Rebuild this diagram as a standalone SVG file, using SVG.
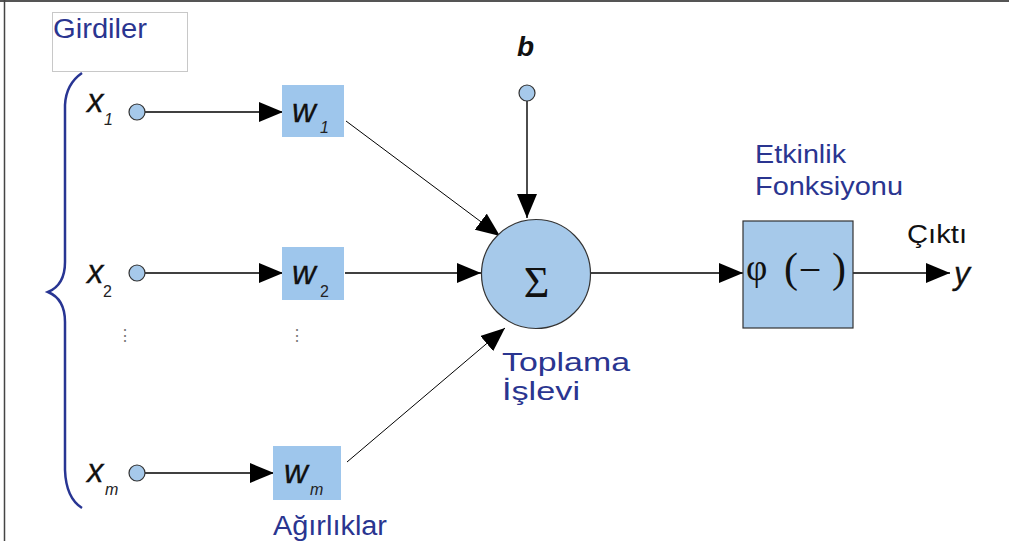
<svg xmlns="http://www.w3.org/2000/svg" width="1009" height="541" viewBox="0 0 1009 541">
<defs>
<style>
.lbl{font-family:"Liberation Sans",Arial,sans-serif;font-size:25px;fill:#2a3590}
.var{font-family:"Liberation Sans",Arial,sans-serif;font-style:italic;font-size:33px;fill:#111;stroke:#111;stroke-width:0.3}
.sub{font-family:"Liberation Sans",Arial,sans-serif;font-style:italic;font-size:16px;fill:#222}
.sym{font-family:"Liberation Serif","Times New Roman",serif;fill:#111}
.node{fill:#a6c9ea;stroke:#333;stroke-width:1.2}
.box{fill:#9ec6ec;stroke:none}
.conn{stroke:#000;stroke-width:1.4;fill:none}
.thin{stroke:#000;stroke-width:1;fill:none}
</style>
<marker id="ah" markerUnits="userSpaceOnUse" markerWidth="24" markerHeight="20" refX="24" refY="10" orient="auto">
<path d="M0,0 L24,10 L0,20 z" fill="#000"/>
</marker>
</defs>
<rect width="1009" height="541" fill="#fff"/>
<g id="frame">
<line x1="0" y1="1" x2="1009" y2="1" stroke="#555" stroke-width="2"/>
<line x1="4.5" y1="0" x2="4.5" y2="541" stroke="#444" stroke-width="1.5"/>
</g>
<g id="girdiler">
<rect x="52.5" y="12.5" width="135" height="59" fill="#fff" stroke="#c8c8c8" stroke-width="1"/>
<text class="lbl" x="53" y="38" textLength="94" lengthAdjust="spacingAndGlyphs" style="font-size:27px">Girdiler</text>
<path d="M82,73 Q66,84 65,105 L65,262 Q65,285 48,292 Q65,299 65,322 L65,470 Q66,498 82,508" fill="none" stroke="#283593" stroke-width="2.5"/>
</g>
<g id="connectors">
<line class="conn" x1="145" y1="112" x2="283" y2="112" marker-end="url(#ah)"/>
<line class="conn" x1="145" y1="273" x2="283" y2="273" marker-end="url(#ah)"/>
<line class="conn" x1="145" y1="473" x2="274" y2="473" marker-end="url(#ah)"/>
<line class="thin" x1="346" y1="121" x2="500" y2="236" marker-end="url(#ah)"/>
<line class="conn" x1="345" y1="273" x2="481" y2="273" marker-end="url(#ah)"/>
<line class="thin" x1="347" y1="462" x2="505" y2="328" marker-end="url(#ah)"/>
<line class="conn" x1="527" y1="101" x2="527" y2="218" marker-end="url(#ah)"/>
<line class="conn" x1="591" y1="273" x2="743" y2="273" marker-end="url(#ah)"/>
<line class="conn" x1="853" y1="273" x2="950" y2="273" marker-end="url(#ah)"/>
</g>
<g id="x1">
<text class="var" x="87" y="112">x</text><text class="sub" x="104" y="125">1</text>
<circle class="node" cx="137" cy="112" r="8"/>
</g>
<g id="x2">
<text class="var" x="87" y="283">x</text><text class="sub" x="103" y="297" style="font-style:normal">2</text>
<circle class="node" cx="137" cy="273" r="8"/>
</g>
<g id="xm">
<text class="var" x="87" y="482">x</text><text class="sub" x="105" y="495">m</text>
<circle class="node" cx="137" cy="473" r="8"/>
</g>
<g id="dots">
<text class="sym" x="125" y="341" font-size="16" text-anchor="middle" style="fill:#777">⋮</text>
<text class="sym" x="297" y="341" font-size="16" text-anchor="middle" style="fill:#777">⋮</text>
</g>
<g id="w1">
<rect class="box" x="282" y="85" width="62" height="52"/>
<text class="var" x="292" y="122">w</text><text class="sub" x="320" y="133">1</text>
</g>
<g id="w2">
<rect class="box" x="282" y="247" width="62" height="53"/>
<text class="var" x="292" y="284">w</text><text class="sub" x="320" y="297" style="font-style:normal">2</text>
</g>
<g id="wm">
<rect class="box" x="273" y="446" width="68" height="54"/>
<text class="var" x="284" y="483">w</text><text class="sub" x="310" y="495">m</text>
<text class="lbl" x="273" y="535" textLength="114" lengthAdjust="spacingAndGlyphs" style="font-size:27px">Ağırlıklar</text>
</g>
<g id="bias">
<text class="var" x="517" y="56" style="font-weight:bold;font-size:28px;stroke:none">b</text>
<circle class="node" cx="527" cy="93" r="8"/>
</g>
<g id="sum">
<circle cx="536" cy="274" r="54.5" fill="#a6c9ea" stroke="#333" stroke-width="1.2"/>
<text class="sym" x="536.5" y="297" font-size="44" text-anchor="middle">Σ</text>
<text class="lbl" x="502" y="371" textLength="128" lengthAdjust="spacingAndGlyphs">Toplama</text>
<text class="lbl" x="502" y="400" textLength="78" lengthAdjust="spacingAndGlyphs">İşlevi</text>
</g>
<g id="activation">
<text class="lbl" x="755" y="163" textLength="91" lengthAdjust="spacingAndGlyphs">Etkinlik</text>
<text class="lbl" x="755" y="195" textLength="148" lengthAdjust="spacingAndGlyphs">Fonksiyonu</text>
<rect x="743" y="221" width="110" height="107" fill="#a6c9ea" stroke="#333" stroke-width="1.2"/>
<text class="sym" x="746" y="280" font-size="37">φ</text>
<text class="sym" x="784" y="282" font-size="42">(</text>
<text class="sym" x="810" y="283" font-size="40" text-anchor="middle">−</text>
<text class="sym" x="832" y="282" font-size="42">)</text>
</g>
<g id="output">
<text x="907" y="243" textLength="60" lengthAdjust="spacingAndGlyphs" style="font-family:'Liberation Sans',Arial,sans-serif;font-size:25px;fill:#111">Çıktı</text>
<text class="var" x="954" y="284" style="font-size:32px">y</text>
</g>
</svg>
